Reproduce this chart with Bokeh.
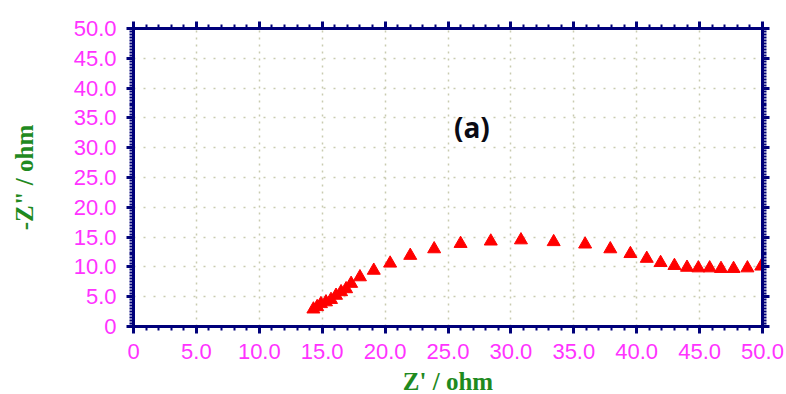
from bokeh.plotting import figure
from bokeh.models import LinearAxis, CustomJSTickFormatter, Range1d, Label, FixedTicker, Grid
from bokeh.embed import file_html
from bokeh.resources import INLINE

# Data (Z' in ohm, -Z'' in ohm)
z_real = [14.3, 14.6, 14.9, 15.3, 15.7, 16.1, 16.5, 16.9, 17.3, 18.0, 19.1, 20.4,
          22.0, 23.9, 26.0, 28.4, 30.8, 33.4, 35.9, 37.9, 39.5, 40.8, 41.9, 43.0,
          44.0, 44.9, 45.8, 46.7, 47.7, 48.8, 49.9]
z_imag = [2.9, 3.3, 3.8, 4.1, 4.5, 5.2, 5.8, 6.3, 7.2, 8.3, 9.4, 10.6,
          11.9, 13.0, 13.9, 14.3, 14.5, 14.2, 13.8, 13.0, 12.2, 11.4, 10.7, 10.2,
          9.9, 9.8, 9.8, 9.7, 9.7, 9.8, 10.1]
major_ticks = [0, 5, 10, 15, 20, 25, 30, 35, 40, 45, 50]
x_label = "Z' / ohm"
y_label = '-Z" / ohm'
annotation = "(a)"

NAVY = "#00007a"
MAGENTA = "#ff33ff"
GREEN = "#1f8a1f"

p = figure(width=786, height=394, output_backend="svg", toolbar_location=None,
           x_range=Range1d(0, 50), y_range=Range1d(0, 50),
           frame_width=629, frame_height=298,
           min_border_left=133, min_border_right=24, min_border_top=28, min_border_bottom=68,
           x_axis_location=None, y_axis_location=None)
p.outline_line_color = None
p.background_fill_color = "white"
p.border_fill_color = "white"

fmt = CustomJSTickFormatter(code="return tick == 0 ? '0' : tick.toFixed(1);")

def style_axis(ax, show_labels, minor):
    ax.ticker = FixedTicker(ticks=major_ticks,
                            minor_ticks=[i * 5 / minor for i in range(0, 10 * minor + 1)])
    ax.axis_line_color = NAVY
    ax.axis_line_width = 3
    ax.major_tick_line_color = NAVY
    ax.major_tick_line_width = 3
    ax.major_tick_out = 7
    ax.major_tick_in = 0
    ax.minor_tick_line_color = NAVY
    ax.minor_tick_line_width = 2
    ax.minor_tick_out = 4
    ax.minor_tick_in = 0
    ax.formatter = fmt
    if show_labels:
        ax.major_label_text_color = MAGENTA
        ax.major_label_text_font = "Liberation Sans"
        ax.major_label_text_font_size = "22px"
    else:
        ax.major_label_text_font_size = "0px"
        ax.major_label_text_color = None

xb = LinearAxis()
style_axis(xb, True, 5)
xb.axis_label = x_label
xb.axis_label_text_color = GREEN
xb.axis_label_text_font = "Liberation Serif"
xb.axis_label_text_font_style = "bold"
xb.axis_label_text_font_size = "25px"
xb.axis_label_standoff = 6
xb.major_label_standoff = 10
p.add_layout(xb, "below")

yl = LinearAxis()
style_axis(yl, True, 10)
yl.axis_label = y_label
yl.axis_label_text_color = GREEN
yl.axis_label_text_font = "Liberation Serif"
yl.axis_label_text_font_style = "bold"
yl.axis_label_text_font_size = "25px"
yl.axis_label_standoff = 33
yl.major_label_standoff = 10
p.add_layout(yl, "left")

xt = LinearAxis()
style_axis(xt, False, 5)
p.add_layout(xt, "above")

yr = LinearAxis()
style_axis(yr, False, 10)
p.add_layout(yr, "right")

p.xgrid.visible = False
p.ygrid.visible = False
gx = Grid(dimension=0, ticker=FixedTicker(ticks=major_ticks[1:-1]),
          grid_line_color="#c9cbb0", grid_line_dash="2 5", grid_line_width=1.5)
gy = Grid(dimension=1, ticker=FixedTicker(ticks=major_ticks[1:-1]),
          grid_line_color="#c9cbb0", grid_line_dash="2 8", grid_line_width=1.5)
p.add_layout(gx)
p.add_layout(gy)

p.scatter(z_real, z_imag, marker="triangle", size=13, fill_color="#ff0000",
          line_color="#ff0000")

p.add_layout(Label(x=26.9, y=33.5, text=annotation, text_font="Open Sans",
                   text_font_style="bold", text_font_size="28px", text_color="#0a0a14",
                   text_align="center", text_baseline="middle"))

open("out.html", "w").write(file_html(p, INLINE))
